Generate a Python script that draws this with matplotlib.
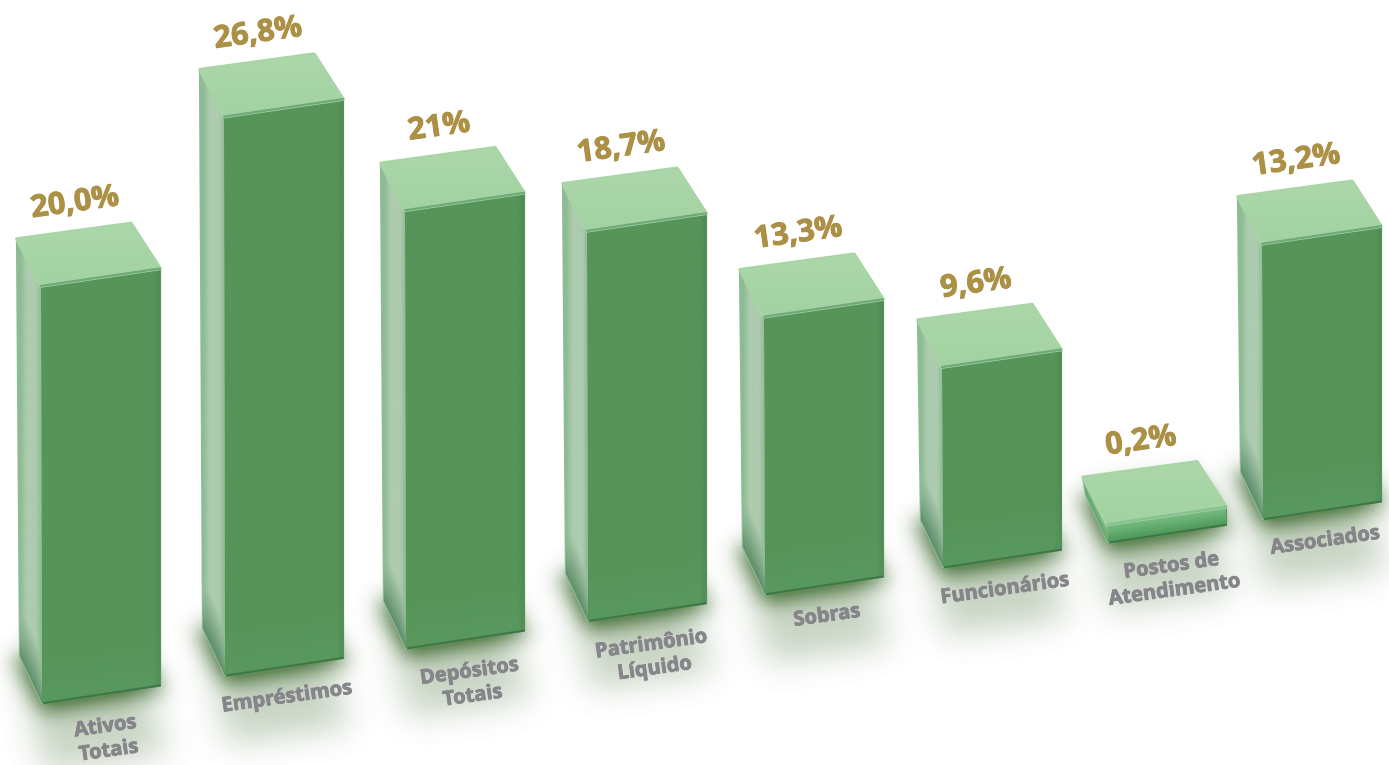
import numpy as np
import matplotlib
matplotlib.use('Agg')
import matplotlib.pyplot as plt
import matplotlib.patheffects as pe
from matplotlib.colors import to_rgb
from matplotlib.patches import Polygon
from matplotlib.path import Path

plt.rcParams['font.family'] = ['Open Sans', 'DejaVu Sans']

## data
categories = ['Ativos\nTotais', 'Empréstimos', 'Depósitos\nTotais', 'Patrimônio\nLíquido',
              'Sobras', 'Funcionários', 'Postos de\nAtendimento', 'Associados']
values = [20.0, 26.8, 21.0, 18.7, 13.3, 9.6, 0.2, 13.2]
value_labels = ['20,0%', '26,8%', '21%', '18,7%', '13,3%', '9,6%', '0,2%', '13,2%']

## layout of the fake 3d scene, in pixels
W, H = 1389, 765
slot_gaps = [183, 181, 182, 177, 178, 165, 155]  # picture is not evenly spaced
x_start, y_start = 42, 703
ground_slope = 0.1507
edge_slope = 0.146
front_w = 120
px_per_unit = 20.85
min_height = 18
depth_top = [(-24, -47), (-29, -45)]
depth_bottom = [(-22, -47), (-29, -45)]

fig = plt.figure(figsize=(W / 100, H / 100), dpi=100, facecolor='white')
ax = fig.add_axes([0, 0, 1, 1])
ax.axis('off')


def rgb(c):
    if isinstance(c, str):
        return np.array(to_rgb(c))
    return c


def paint(pts, colour_fn, edge, z, lw=1.6):
    # fill a polygon with a colour worked out per pixel
    pts = np.array(pts, dtype=float)
    x0, x1 = pts[:, 0].min(), pts[:, 0].max()
    y0, y1 = pts[:, 1].min(), pts[:, 1].max()
    xs, ys = np.meshgrid(np.arange(x0, x1 + 1), np.arange(y0, y1 + 1))
    ax.add_patch(Polygon(pts, closed=True, fc='none', ec=edge, lw=lw, joinstyle='round', zorder=z))
    im = ax.imshow(colour_fn(xs, ys), extent=(x0, x1, y1, y0), aspect='auto',
                   interpolation='bilinear', zorder=z + 0.1)
    im.set_clip_path(Polygon(pts, closed=True, transform=ax.transData))


def mix(a, b, t):
    t = np.clip(t, 0, 1)[..., None]
    return rgb(a) * (1 - t) + rgb(b) * t


def blur(mask, sigma):
    fy = np.fft.fftfreq(mask.shape[0])[:, None]
    fx = np.fft.rfftfreq(mask.shape[1])[None, :]
    g = np.exp(-2 * (np.pi * sigma) ** 2 * (fx ** 2 + fy ** 2))
    return np.fft.irfft2(np.fft.rfft2(mask) * g, s=mask.shape)


base_x = x_start + np.concatenate([[0], np.cumsum(slot_gaps)])
base_y = y_start - ground_slope * (base_x - x_start)
heights = np.maximum(np.array(values) * px_per_unit, min_height)

#--------- shadows on the floor
pad = 120
yy, xx = np.mgrid[0:H + pad, 0:W + pad]
grid = np.c_[xx.ravel() - pad / 2, yy.ravel()]
tight = np.zeros(xx.shape)
wide = np.zeros(xx.shape)
for x0, y0 in zip(base_x, base_y):
    fl = (x0, y0)
    fr = (x0 + front_w - 2, y0 - edge_slope * front_w)
    bl = (x0 + depth_bottom[0][0], y0 + depth_bottom[0][1])
    br = (fr[0] + depth_bottom[1][0], fr[1] + depth_bottom[1][1])
    foot = np.array([(fl[0], fl[1] + 9), (fr[0] + 7, fr[1] + 5), br, (bl[0] - 9, bl[1])])
    tight += Path(foot).contains_points(grid).reshape(xx.shape)
    long_foot = np.array([(fl[0] + 2, fl[1] + 68), (fr[0] + 6, fr[1] + 68), br, bl])
    wide += Path(long_foot).contains_points(grid).reshape(xx.shape)
alpha = 0.92 * blur(tight, 10) + 0.36 * blur(wide, 16)
alpha[alpha < 0.006] = 0  # fft leaves faint specks on the white
alpha = np.clip(alpha, 0, 1)[:, int(pad / 2):int(pad / 2) + W][:H, :, None]
floor = (1 - alpha) + alpha * rgb('#66895a')
ax.imshow(floor, extent=(0, W, H, 0), aspect='auto', interpolation='bilinear', zorder=0)

#--------- bars
for i, (x0, y0, h) in enumerate(zip(base_x, base_y, heights)):
    short = h < 30
    fl = np.array([x0, y0])
    fr = np.array([x0 + front_w - 2, y0 - edge_slope * front_w])
    tl = np.array([x0 - 1, y0 - h])
    tr = np.array([x0 + front_w - 2, y0 - edge_slope * front_w - h])
    bl_top = tl + depth_top[0]
    br_top = tr + depth_top[1]
    bl_bot = fl + depth_bottom[0]
    z = 2 + i

    def above_foot(xs, ys):
        return fl[1] - edge_slope * (xs - fl[0]) - ys

    def front_colour(xs, ys):
        if short:
            return mix('#4f9a5c', '#74b97d', above_foot(xs, ys) / 15)
        c = mix('#59985f', '#569459', above_foot(xs, ys) / 60)
        return c * (1 - 0.06 * np.clip((xs - fr[0] + 6) / 6, 0, 1))[..., None]

    def side_colour(xs, ys):
        # floor edge of the side runs from fl up to the back corner
        slope = (fl[1] - bl_bot[1]) / (fl[0] - bl_bot[0])
        d = fl[1] + slope * (xs - fl[0]) - ys
        if short:
            return mix('#5ea36a', '#8cc493', d / 14)
        c = mix('#5e8f6b', '#adcbae', d / 50)
        # soft roll off towards both long edges
        u = (xs - bl_bot[0]) / (fl[0] - bl_bot[0])
        return mix(c, '#8dbc94', np.maximum(1 - u / 0.3, (u - 0.75) / 0.25) * np.clip(d / 50, 0, 1))

    def top_colour(xs, ys):
        return mix('#acd7aa', '#a2d2a2', (ys - ys.min()) / (ys.max() - ys.min()))

    paint([tl, tr, fr, fl], front_colour, '#559359', z)
    paint([bl_top, tl, fl, bl_bot], side_colour, '#8dbc94', z)
    paint([bl_top, br_top, tr, tl], top_colour, '#a8d5a6', z + 0.3, lw=2.6)
    # lighter rounded edge between top and front
    ax.plot([tl[0], tr[0]], [tl[1], tr[1]], color='#86c08e' if short else '#6fa977', lw=1.6,
            zorder=z + 0.5, solid_capstyle='round')
    # dark foot line of the front face
    ax.plot([fl[0] + 2, fr[0]], [fl[1], fr[1]], color='#3d7747', lw=1.4, zorder=z + 0.5,
            solid_capstyle='round')

    # value on top, follows the slant of the bar
    back_mid = (bl_top + br_top) / 2
    ax.text(back_mid[0] + 1, back_mid[1] - 28, value_labels[i], color='#ab9045', fontsize=22,
            fontweight='bold', rotation=8, ha='center', va='center', rotation_mode='anchor',
            path_effects=[pe.withStroke(linewidth=0.7, foreground='#ab9045')], zorder=30)

    # category below the bar
    two_lines = '\n' in categories[i]
    front_mid = (fl + fr) / 2
    ax.text(front_mid[0] + (6 if two_lines else 3), front_mid[1] + (45 if two_lines else 31),
            categories[i], color='#85858a', fontsize=14.5, fontweight='bold', rotation=8,
            ha='center', va='center', rotation_mode='anchor', linespacing=1.3,
            multialignment='center',
            path_effects=[pe.withStroke(linewidth=0.6, foreground='#85858a')], zorder=30)

ax.set_xlim(0, W)
ax.set_ylim(H, 0)
fig.savefig('out.png', dpi=100, facecolor='white')
